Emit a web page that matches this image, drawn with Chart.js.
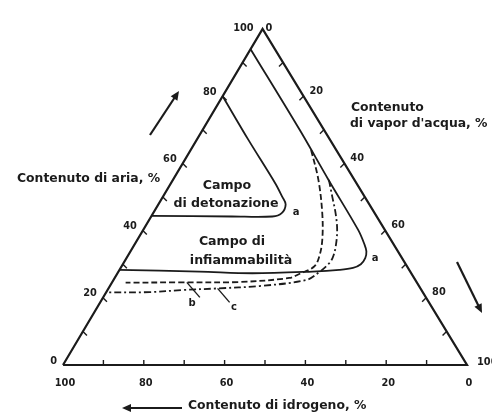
<!DOCTYPE html>
<html>
<head>
<meta charset="utf-8">
<script src="https://cdn.jsdelivr.net/npm/chart.js@4.4.0/dist/chart.umd.min.js"></script>
<style>
  html, body { margin: 0; padding: 0; background: #ffffff; }
  #wrap { width: 492px; height: 415px; }
</style>
</head>
<body>
<div id="wrap"><canvas id="tern" width="492" height="415"></canvas></div>
<script>
// Ternary diagram hydrogen / air / water vapour.
// Every point is given as (air %, water vapour %); hydrogen % = 100 - air - water.

const tickSteps = [10, 20, 30, 40, 50, 60, 70, 80, 90];
const labelSteps = [20, 40, 60, 80];

// Triangle outline: hydrogen corner, air corner, water corner, back to start
const frameAir   = [0, 100, 0, 0];
const frameWater = [0, 0, 100, 0];

// Curve a: detonation field
const detonationAir   = [80, 67, 54.1, 50.1, 47.8, 45.2, 44.2, 44.2, 44.4];
const detonationWater = [0, 12.8, 25.8, 29.5, 31.5, 31.8, 30.0, 20.0, 0];

// Curve a: flammability field
const flammabilityAir   = [94, 70, 55, 40.2, 36, 33.8, 31.8, 30.0, 28.9, 28.3, 27.8, 27.3, 27.8, 28.3];
const flammabilityWater = [0, 24, 38.6, 53.2, 56.8, 58.4, 59.1, 58.9, 57.5, 54.4, 48, 33.4, 20, 0];

// Curve b
const curveBAir   = [64, 55.1, 45.1, 37.2, 32.2, 29.3, 27.1, 25.9, 24.7, 24.6, 24.5];
const curveBWater = [29.8, 36, 41.9, 45.8, 47.5, 47.7, 45.1, 43.2, 31.5, 16.7, 3.4];

// Curve c
const curveCAir   = [55.1, 50.1, 45.1, 40.2, 35.2, 31.8, 29.8, 27.7, 25.3, 23.5, 22.8, 22.3, 21.7, 21.6];
const curveCWater = [38.6, 41.9, 45.2, 48.0, 50.1, 51.0, 50.8, 49.8, 47.7, 37.0, 27.0, 18.5, 10.7, 0];

// Cartesian projection: x runs from the hydrogen corner to the water corner, y is air.
// The air corner sits slightly left of the base midpoint.
const APEX = 0.494;
function toXY(air, water) { return { x: water + air * APEX, y: air }; }
function series(airs, waters) { return airs.map((a, i) => toXY(a, waters[i])); }

const INK = '#1b1b1b';
const FONT = '"DejaVu Sans", Verdana, sans-serif';

function arrow(ctx, x1, y1, x2, y2) {
  const ang = Math.atan2(y2 - y1, x2 - x1);
  const head = 9, wing = 4;
  ctx.beginPath();
  ctx.moveTo(x1, y1);
  ctx.lineTo(x2 - Math.cos(ang) * head * 0.8, y2 - Math.sin(ang) * head * 0.8);
  ctx.lineWidth = 2.2;
  ctx.stroke();
  ctx.beginPath();
  ctx.moveTo(x2, y2);
  ctx.lineTo(x2 - Math.cos(ang) * head - Math.sin(ang) * wing, y2 - Math.sin(ang) * head + Math.cos(ang) * wing);
  ctx.lineTo(x2 - Math.cos(ang) * head + Math.sin(ang) * wing, y2 - Math.sin(ang) * head - Math.cos(ang) * wing);
  ctx.closePath();
  ctx.fill();
}

const decor = {
  id: 'ternaryDecor',
  afterDatasetsDraw(chart) {
    const { ctx, scales } = chart;
    const px = (air, water) => {
      const p = toXY(air, water);
      return { x: scales.x.getPixelForValue(p.x), y: scales.y.getPixelForValue(p.y) };
    };
    ctx.save();
    ctx.strokeStyle = INK;
    ctx.fillStyle = INK;
    ctx.lineWidth = 1.4;

    // tick marks on the three sides
    tickSteps.forEach(v => {
      let p = px(v, 0);                 // air scale, left side
      ctx.beginPath(); ctx.moveTo(p.x, p.y); ctx.lineTo(p.x + 4, p.y + 4); ctx.stroke();
      p = px(100 - v, v);               // water scale, right side
      ctx.beginPath(); ctx.moveTo(p.x, p.y); ctx.lineTo(p.x - 4, p.y + 4); ctx.stroke();
      p = px(0, 100 - v);               // hydrogen scale, base
      ctx.beginPath(); ctx.moveTo(p.x, p.y); ctx.lineTo(p.x, p.y - 5); ctx.stroke();
    });

    // tick labels
    ctx.font = 'bold 9.8px ' + FONT;
    ctx.textBaseline = 'middle';
    ctx.textAlign = 'right';
    [0, ...labelSteps].forEach(v => {
      const p = px(v, 0);
      ctx.fillText(String(v), p.x - 6, p.y - 4);
    });
    const top = px(100, 0);
    ctx.fillText('100', top.x - 9, top.y - 1);
    ctx.textAlign = 'left';
    ctx.fillText('0', top.x + 3, top.y - 1);
    labelSteps.forEach(v => {
      const p = px(100 - v, v);
      ctx.fillText(String(v), p.x + 6, p.y - 5);
    });
    const br = px(0, 100);
    ctx.fillText('100', br.x + 10, br.y - 3);
    ctx.textAlign = 'center';
    [100, 80, 60, 40, 20, 0].forEach(h => {
      const p = px(0, 100 - h);
      ctx.fillText(String(h), p.x + 2, p.y + 18);
    });

    // axis titles
    ctx.font = 'bold 12.4px ' + FONT;
    ctx.textAlign = 'left';
    ctx.fillText('Contenuto di aria, %', 17, 179);
    ctx.fillText('Contenuto', 351, 108);
    ctx.fillText("di vapor d'acqua, %", 350, 124);
    ctx.fillText('Contenuto di idrogeno, %', 188, 406);

    // field names
    ctx.font = 'bold 12.6px ' + FONT;
    ctx.textAlign = 'center';
    ctx.fillText('Campo', 227, 186);
    ctx.fillText('di detonazione', 226, 204);
    ctx.fillText('Campo di', 232, 242);
    ctx.fillText('infiammabilità', 241, 261);

    // curve letters
    ctx.font = 'bold 10px ' + FONT;
    ctx.fillText('a', 296, 212);
    ctx.fillText('a', 375, 258);
    ctx.fillText('b', 192, 303);
    ctx.fillText('c', 234, 307);

    // leaders to b and c
    ctx.lineWidth = 1.4;
    const lb = px(24.6, 18.5), lc = px(22.8, 27.0);
    ctx.beginPath(); ctx.moveTo(lb.x, lb.y); ctx.lineTo(lb.x + 13, lb.y + 15); ctx.stroke();
    ctx.beginPath(); ctx.moveTo(lc.x, lc.y); ctx.lineTo(lc.x + 12, lc.y + 14); ctx.stroke();

    // direction arrows
    arrow(ctx, 150, 135, 179, 91);
    arrow(ctx, 457, 262, 482, 313);
    arrow(ctx, 182, 408, 122, 408);

    ctx.restore();
  }
};

const common = { showLine: true, pointRadius: 0, borderColor: INK, clip: false, fill: false };

new Chart(document.getElementById('tern'), {
  type: 'scatter',
  data: {
    datasets: [
      Object.assign({ label: 'triangle', data: series(frameAir, frameWater), borderWidth: 2.2, tension: 0 }, common),
      Object.assign({ label: 'a detonazione', data: series(detonationAir, detonationWater), borderWidth: 1.8, tension: 0.35 }, common),
      Object.assign({ label: 'a infiammabilità', data: series(flammabilityAir, flammabilityWater), borderWidth: 1.8, tension: 0.35 }, common),
      Object.assign({ label: 'b', data: series(curveBAir, curveBWater), borderWidth: 1.8, tension: 0.35, borderDash: [6, 3] }, common),
      Object.assign({ label: 'c', data: series(curveCAir, curveCWater), borderWidth: 1.8, tension: 0.35, borderDash: [7, 3, 2, 3] }, common)
    ]
  },
  options: {
    responsive: false,
    animation: false,
    devicePixelRatio: 1,
    layout: { padding: { left: 63, right: 25, top: 29, bottom: 50 } },
    scales: {
      x: { type: 'linear', min: 0, max: 100, display: false },
      y: { type: 'linear', min: 0, max: 100, display: false }
    },
    plugins: { legend: { display: false }, tooltip: { enabled: false } }
  },
  plugins: [decor]
});
</script>
</body>
</html>
